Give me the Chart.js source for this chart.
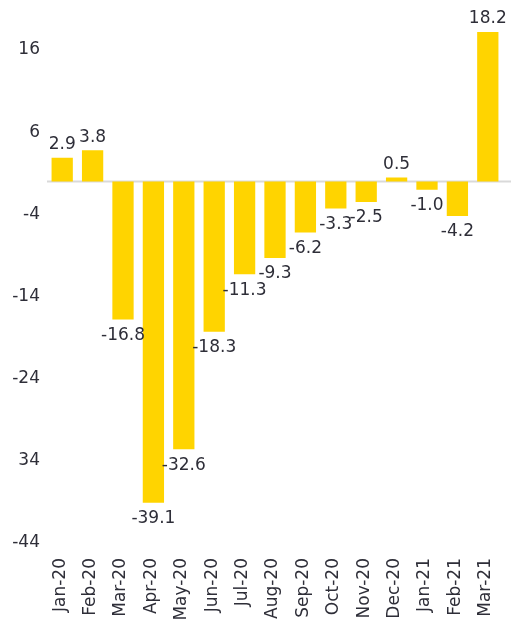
<!DOCTYPE html>
<html>
<head>
<meta charset="utf-8">
<script src="https://cdn.jsdelivr.net/npm/chart.js@4/dist/chart.umd.min.js"></script>
<style>
  html, body { margin: 0; padding: 0; background: #ffffff; }
  #wrap { width: 525px; height: 619px; position: relative; }
</style>
</head>
<body>
<div id="wrap"><canvas id="c" width="525" height="619"></canvas></div>
<script>
const categories = ['Jan-20','Feb-20','Mar-20','Apr-20','May-20','Jun-20','Jul-20','Aug-20','Sep-20','Oct-20','Nov-20','Dec-20','Jan-21','Feb-21','Mar-21'];
const values = [2.9, 3.8, -16.8, -39.1, -32.6, -18.3, -11.3, -9.3, -6.2, -3.3, -2.5, 0.5, -1.0, -4.2, 18.2];
const yTickValues = [16, 6, -4, -14, -24, -34, -44];
const yTickLabels = ['16', '6', '-4', '-14', '-24', '34', '-44'];

const TEXT = '#2e2e38';
const BAR = '#ffd400';
const FONT = '"DejaVu Sans", Verdana, sans-serif';

const zeroLine = {
  id: 'zeroLine',
  beforeDatasetsDraw(chart) {
    const { ctx, chartArea, scales } = chart;
    const y = scales.y.getPixelForValue(0);
    ctx.save();
    ctx.strokeStyle = '#d9d9d9';
    ctx.lineWidth = 2;
    ctx.beginPath();
    ctx.moveTo(chartArea.left, y);
    ctx.lineTo(chartArea.right + 8, y);
    ctx.stroke();
    ctx.restore();
  }
};

const valueLabels = {
  id: 'valueLabels',
  afterDatasetsDraw(chart) {
    const { ctx } = chart;
    const meta = chart.getDatasetMeta(0);
    ctx.save();
    ctx.font = '17px ' + FONT;
    ctx.fillStyle = TEXT;
    ctx.textAlign = 'center';
    ctx.textBaseline = 'middle';
    meta.data.forEach((el, i) => {
      const v = values[i];
      const y = v >= 0 ? el.y - 13 : el.y + 16;
      ctx.fillText(v.toFixed(1), el.x, y);
    });
    ctx.restore();
  }
};

new Chart(document.getElementById('c'), {
  type: 'bar',
  data: {
    labels: categories,
    datasets: [{
      data: values,
      backgroundColor: BAR,
      borderWidth: 0,
      categoryPercentage: 1,
      barPercentage: 0.7
    }]
  },
  options: {
    responsive: false,
    animation: false,
    devicePixelRatio: 1,
    layout: { padding: { top: 3, right: 22, left: 0, bottom: 0 } },
    plugins: { legend: { display: false }, tooltip: { enabled: false } },
    scales: {
      x: {
        grid: { display: false, drawTicks: false },
        border: { display: false },
        ticks: {
          color: TEXT,
          font: { family: FONT, size: 17 },
          minRotation: 90,
          maxRotation: 90,
          padding: 15,
          labelOffset: -2,
          autoSkip: false
        },
        afterFit(scale) { scale.height = 76; }
      },
      y: {
        min: -44,
        max: 20,
        grid: { display: false, drawTicks: false },
        border: { display: false },
        afterBuildTicks(scale) {
          scale.ticks = yTickValues.map(v => ({ value: v }));
        },
        ticks: {
          color: TEXT,
          font: { family: FONT, size: 17 },
          padding: 7,
          callback(value) {
            const i = yTickValues.indexOf(value);
            return i >= 0 ? yTickLabels[i] : '';
          }
        },
        afterFit(scale) { scale.width = 47; }
      }
    }
  },
  plugins: [zeroLine, valueLabels]
});
</script>
</body>
</html>
